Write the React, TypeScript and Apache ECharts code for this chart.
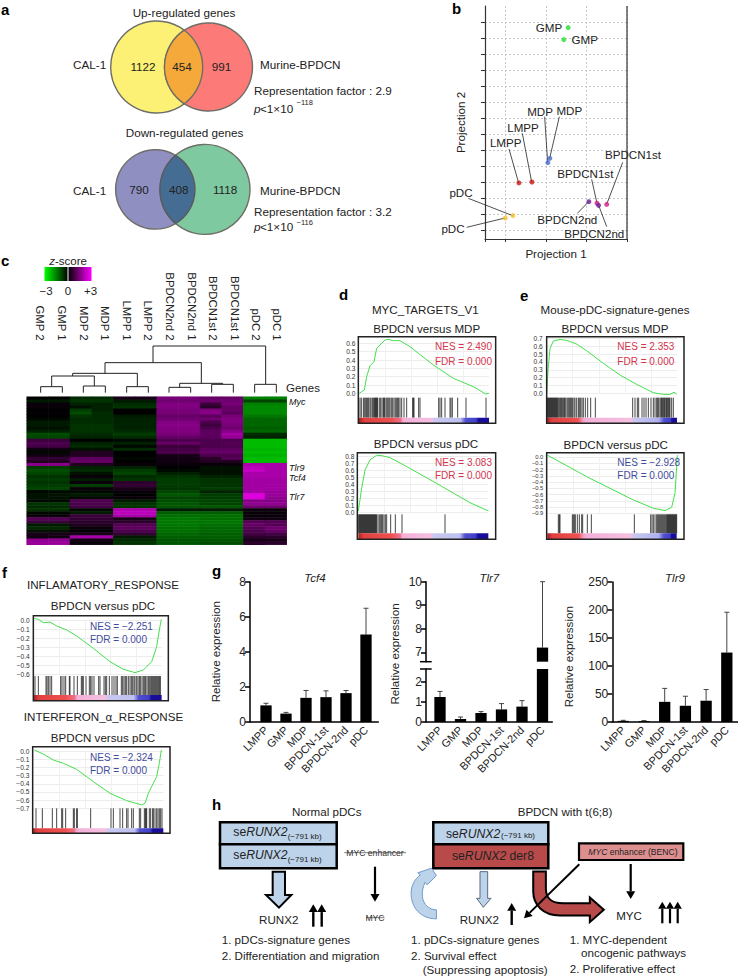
import React, { useEffect, useRef } from "react";
import * as echarts from "echarts";

const FONT = "Liberation Sans";

/* ---------- data ---------- */
const projNames = ["GMP", "GMP", "MDP", "MDP", "LMPP", "LMPP", "pDC", "pDC", "BPDCN1st", "BPDCN1st", "BPDCN2nd", "BPDCN2nd"];
const projX = [1.549, 1.442, 1.098, 1.049, 0.656, 0.336, 0.189, 0, 2.5, 2.26, 2.06, 2.3];
const projY = [12.65, 11.9, 4.48, 4.21, 3.0, 2.94, 0.9, 0.75, 1.6, 1.67, 1.77, 1.54];
const projColors = ["#22dd33", "#22dd33", "#4a6ccc", "#4a6ccc", "#cc1414", "#cc1414", "#f5c030", "#f5c030", "#d81b85", "#d81b85", "#6a1b9a", "#6a1b9a"];

const heatCols = ["GMP 2", "GMP 1", "MDP 2", "MDP 1", "LMPP 1", "LMPP 2", "BPDCN2nd 2", "BPDCN2nd 1", "BPDCN1st 2", "BPDCN1st 1", "pDC 2", "pDC 1"];
const heatRows = [
  [0, 0, -.5, -.5, .3, .3, 1.4, 1.4, 1.2, 1.2, -1.5, -1.5],
  [-.3, -.3, -.6, -.6, -.3, -.3, 1.3, 1.3, 1.3, 1.3, -.8, -.8],
  [.1, .1, -.4, -.4, -.5, -.5, 1.5, 1.5, .7, 1.4, -1.5, -1.5],
  [.1, .1, -.2, -.4, -.6, -.6, 1.5, 1.5, .5, 1.2, -1.6, -1.6],
  [0, 0, -.7, -.4, 0, 0, 1.4, 1.4, 1.5, 1.2, -1.6, -1.6],
  [.05, .05, -.9, -.5, 0, 0, 1.4, 1.4, 1.6, 1.1, -1.6, -1.6],
  [0, 0, -.6, -.5, -.3, -.3, 1.2, 1.2, 1.1, 1.4, -1.4, -1.4],
  [-.1, -.1, -.5, -.5, -.4, -.4, 1.3, 1.3, 1.3, 1.5, -1.2, -1.2],
  [-.3, -.3, -.5, -.5, -.4, -.4, 1.5, 1.5, .9, 1.5, -1.2, -1.2],
  [-.3, -.3, -.6, -.6, -.4, -.4, 1.6, 1.6, .7, 1.4, -1.2, -1.2],
  [-.2, -.2, -.6, -.6, -.4, -.4, 1.5, 1.5, .9, 1.3, -1.1, -1.1],
  [-.4, -.4, -.6, -.6, -.5, -.5, 1.5, 1.5, 1.1, 1.6, -1.2, -1.2],
  [-.9, -.9, -.5, -.5, -.7, -.7, 1.4, 1.4, 1.1, 1.9, -.5, -.5],
  [-.8, -.8, -.4, -.4, -.5, -.5, 1.2, 1.2, 1.1, 1.7, -.4, -.4],
  [.7, .7, 0, 0, -.1, -.1, .9, .9, .9, .9, -2.2, -2.2],
  [.9, .9, -.4, -.4, -.4, -.4, 1.2, 1.2, .9, 1, -2.2, -2.2],
  [.8, .8, -.5, -.5, -.1, -.1, .7, .7, .9, .9, -2.2, -2.2],
  [.2, .2, -.2, -.2, -.5, -.5, .8, .8, 1.1, 1.1, -2.1, -2.1],
  [-.1, -.1, .4, .4, 0, 0, .9, .9, 1.2, 1.2, -2.2, -2.2],
  [.2, .2, .4, .4, 0, 0, .3, .3, .9, .9, -2.1, -2.1],
  [.6, .6, 1.1, 1.1, -.1, -.1, .2, .2, .5, 1, -2.2, -2.2],
  [.4, .4, 1.2, 1.2, 0, 0, .2, .2, .4, .4, -2.2, -2.2],
  [1.6, 1.6, .4, .4, .1, .1, .1, .1, .1, .1, 2, 2],
  [-.7, -.7, -.4, -.4, -.4, -.4, 0, 0, -.2, -.2, 2.2, 2],
  [-.9, -.9, -.5, -.5, -.7, -.7, -.1, -.1, -.2, -.2, 2.3, 2],
  [-.8, -.8, -.2, -.2, -.8, -.8, -.4, -.4, -.2, -.2, 2, 2],
  [-.6, -.6, .1, .1, -.5, -.5, -.6, -.6, -.4, -.4, 2, 2],
  [-.7, -.7, -.3, -.3, -.6, -.6, -.7, -.7, -.6, -.6, 1.9, 1.9],
  [-.6, -.6, .1, .1, .5, .5, -.7, -.7, -.6, -.6, 1.9, 1.9],
  [-.7, -.7, -.7, -.7, .6, .6, -.7, -.7, -.6, -.6, 1.9, 1.9],
  [-.8, -.8, .1, .1, .3, .3, -.6, -.6, -.7, -.7, 1.9, 1.9],
  [-.1, -.1, -.1, -.1, .1, .1, -.8, -.8, -.4, -.4, 1.9, 1.8],
  [-.2, -.2, -.3, -.3, 0, 0, -1, -1, -.7, -.7, 2.6, 1.8],
  [-.2, -.2, -.1, -.1, .1, .1, -.8, -.8, -.7, -.7, 2.6, 1.7],
  [-.1, -.1, .9, .9, -.3, -.3, -.9, -.9, -.8, -.8, 1.6, 1.6],
  [-.6, -.6, .9, .9, -.6, -.6, -1, -1, -.8, -.8, 1.7, 1.7],
  [-.5, -.5, .8, .8, -.6, -.6, -1, -1, -1, -1, 1.3, 1.3],
  [-.6, -.6, -.1, -.1, 2.1, 2.1, -.3, -.3, -.3, -.3, .1, .1],
  [-.1, -.1, -.3, -.3, 2.2, 2.2, -1.1, -1.1, -1.1, -1.1, .1, .1],
  [.1, .1, .7, .7, 2, 2, -1.3, -1.3, -1.3, -1.3, .1, .1],
  [1, 1, .6, .6, .3, .3, -1.4, -1.4, -1.3, -1.3, .2, .2],
  [.7, .7, .5, .5, .5, .5, -1.4, -1.4, -1.4, -1.4, 1, 1],
  [-.3, -.3, .4, .4, 1, 1, -1.4, -1.4, -1.3, -1.3, 1.2, 1],
  [-.5, -.5, .1, .1, 1.1, 1.1, -1.3, -1.3, -1.2, -1.2, 1, 1.3],
  [-.2, -.2, 0, 0, .9, .9, -1.3, -1.3, -1.2, -1.2, .9, 1.2],
  [.3, .3, .3, .3, .6, .6, -1.2, -1.2, -1.1, -1.1, .8, .8],
  [.2, .2, 2, 2, -.3, -.3, -1.1, -1.1, -1.1, -1.1, .5, .5],
  [1.7, 1.7, .2, .2, -.5, -.5, -1, -1, -1, -1, .3, .3],
  [1.8, 1.8, .1, .1, -.6, -.6, -1, -1, -.9, -.9, .5, .5],
];

const d1Curve = [[118, 0], [125, .02], [133, .04], [140, .2], [150, .33], [162, .38], [170, .54], [180, .58], [195, .64], [205, .648], [220, .632], [240, .632], [270, .56], [340, .34], [400, .18], [460, .08], [497, -.008], [507, 0]];
const d1Hits = [120, 124, 130, 133, 137, 140, 143, 146, 150, 153, 157, 160, 163, 165, 167, 169, 171, 173, 178, 182, 186, 190, 192, 194, 198, 201, 204, 207, 210, 214, 218, 222, 226, 230, 233, 236, 240, 245, 252, 260, 278, 280, 282, 296, 300, 356, 360, 365, 375, 390, 393, 397, 413, 438, 498];
const d2Curve = [[115, .02], [125, .34], [135, .6], [150, .744], [170, .81], [185, .805], [210, .777], [260, .65], [350, .41], [450, .137], [505, .02]];
const d2Hits = [116, 118, 120, 122, 124, 126, 128, 130, 132, 134, 136, 138, 140, 142, 144, 146, 148, 150, 152, 154, 156, 158, 160, 162, 164, 166, 168, 170, 174, 178, 182, 185, 188, 192, 196, 200, 212, 226, 246, 375];
const e1Curve = [[80, 0], [85, .34], [90, .57], [100, .665], [120, .686], [140, .674], [170, .627], [200, .542], [250, .381], [300, .233], [350, .114], [400, .008], [430, -.013], [450, -.013], [462, .013], [470, -.008]];
const e1Hits = [81, 83, 85, 87, 89, 91, 93, 95, 97, 99, 101, 103, 105, 107, 109, 111, 113, 116, 119, 122, 124, 127, 130, 133, 135, 138, 142, 146, 149, 152, 155, 158, 162, 165, 170, 175, 178, 182, 186, 190, 196, 203, 212, 226, 338, 345, 352, 356, 366, 372, 378, 385, 393, 400, 405, 410, 413, 416, 420, 423, 425, 428, 430, 433, 435, 438, 440, 443, 445, 448, 450, 455, 460];
const e2Curve = [[82, .03], [200, -.314], [340, -.686], [400, -.819], [435, -.856], [455, -.803], [465, -.58], [470, -.154], [472, .03]];
const e2Hits = [115, 118, 120, 157, 160, 163, 166, 172, 178, 185, 188, 202, 214, 343, 392, 396, 400, 405, 410, 413, 416, 419, 422, 425, 428, 431, 434, 437, 440, 442, 444, 446, 448, 450, 452, 454, 456, 458, 460, 462, 464, 466, 468, 470];
const f1Curve = [[103, .022], [115, .011], [130, -.026], [150, -.019], [170, -.063], [200, -.107], [230, -.174], [280, -.311], [330, -.459], [370, -.544], [405, -.581], [430, -.552], [455, -.459], [470, -.293], [478, -.107], [484, .011]];
const f1Hits = [105, 115, 138, 141, 145, 150, 155, 182, 186, 192, 197, 208, 210, 222, 232, 244, 247, 250, 258, 268, 272, 276, 282, 296, 300, 312, 316, 320, 328, 336, 342, 348, 352, 364, 368, 372, 376, 380, 385, 390, 394, 398, 402, 405, 410, 414, 418, 421, 426, 430, 434, 437, 441, 445, 448, 452, 455, 458, 461, 464, 467, 470, 473, 476, 479, 481];
const f2Curve = [[103, .012], [130, -.037], [160, -.11], [190, -.15], [230, -.224], [280, -.374], [330, -.516], [380, -.606], [425, -.659], [435, -.638], [445, -.516], [460, -.394], [470, -.313], [478, -.15], [484, .012]];
const f2Hits = [108, 127, 157, 170, 185, 188, 197, 220, 223, 230, 232, 272, 333, 340, 360, 368, 380, 384, 395, 400, 418, 422, 433, 436, 438, 440, 448, 452, 458, 460, 465, 470, 474, 478, 482, 486];

const cellTypes = ["LMPP", "GMP", "MDP", "BPDCN-1st", "BPDCN-2nd", "pDC"];
const tcf4Values = [.95, .48, 1.38, 1.42, 1.65, 5.0];
const tcf4Upper = [1.07, .55, 1.8, 1.78, 1.8, 6.5];
const tlr7Values = [1.25, .15, .45, .63, .77, 7.2];
const tlr7Upper = [1.53, .25, .52, .92, 1.07, 10];
const tlr9Values = [2, 1.5, 36, 29, 38, 124];
const tlr9Upper = [3, 2.5, 60, 46, 58, 196];

/* ---------- shapes ---------- */
echarts.graphic.registerShape("lensUp", echarts.graphic.extendPath("M184.3 30.2 A46 46 0 0 1 184.3 103.8 A44 44 0 0 1 184.3 30.2 Z", {}));
echarts.graphic.registerShape("lensDown", echarts.graphic.extendPath("M175.6 155.3 A39.7 39.7 0 0 1 175.6 223.5 A45 45 0 0 1 175.6 155.3 Z", {}));
echarts.graphic.registerShape("curlBlue", echarts.graphic.extendPath("M710 522 C662 522 634 488 634 445 C634 420 646 402 662 390 L654 384 L695 370 L710 392 L682 420 L676 412 C670 425 666 440 668 455 C670 480 690 495 710 495 Z", {}));
echarts.graphic.registerShape("bendRed", echarts.graphic.extendPath("M340 380 L378 380 L378 430 C378 462 395 475 430 475 L510 475 L510 458 L552 495 L510 532 L510 512 L420 512 C370 512 340 480 340 440 Z", {}));

const stripStopsA = [[0, "#a82020"], [.04, "#e04040"], [.25, "#ee5050"], [.32, "#f07088"], [.34, "#f4b0d8"], [.56, "#f4c0e0"], [.58, "#c8c8f0"], [.78, "#c0c0f0"], [.82, "#5050d0"], [.9, "#4040c8"], [.92, "#180c98"], [1, "#180c98"]];
const stripStopsE = [[0, "#a82020"], [.04, "#e04040"], [.24, "#ee5050"], [.28, "#f4a0c8"], [.3, "#f4b0d8"], [.65, "#f4c0e0"], [.67, "#c8c8f0"], [.86, "#b0b0f0"], [.9, "#5050d0"], [.95, "#4040c8"], [.96, "#180c98"], [1, "#180c98"]];

function T(x: number, y: number, text: string, o: any = {}) {
  const { rotation, ...st } = o;
  const el: any = {
    type: "text", x, y, z: 20, silent: true,
    style: { text, fontFamily: FONT, fontSize: 12, fill: "#222", align: "left", verticalAlign: "middle", ...st },
  };
  if (rotation !== undefined) el.rotation = rotation;
  return el;
}
function L(x1: number, y1: number, x2: number, y2: number, stroke = "#111", lineWidth = 1, z = 15) {
  return { type: "line", z, silent: true, shape: { x1, y1, x2, y2 }, style: { stroke, lineWidth } };
}
function Arrow(x1: number, y1: number, x2: number, y2: number, w = 2, head = 6) {
  const a = Math.atan2(y2 - y1, x2 - x1);
  const bx = x2 - Math.cos(a) * head * 1.3, by = y2 - Math.sin(a) * head * 1.3;
  const nx = -Math.sin(a) * head * 0.75, ny = Math.cos(a) * head * 0.75;
  return [
    L(x1, y1, bx, by, "#000", w),
    { type: "polygon", z: 15, silent: true, shape: { points: [[x2, y2], [bx + nx, by + ny], [bx - nx, by - ny]] }, style: { fill: "#000" } },
  ];
}

function buildOption() {
  const grid: any[] = [], xAxis: any[] = [], yAxis: any[] = [], series: any[] = [], g: any[] = [];
  const addGrid = (l: number, t: number, r: number, b: number, x: any, y: any) => {
    grid.push({ left: l, top: t, width: r - l, height: b - t, containLabel: false });
    const i = grid.length - 1;
    xAxis.push({ gridIndex: i, type: "value", ...x });
    yAxis.push({ gridIndex: i, type: "value", ...y });
    return i;
  };
  const lineOff = (extra: any = {}) => ({ onZero: false, ...extra });

  /* panel letters */
  ([["a", 1, 9], ["b", 452, 8], ["c", 1, 260], ["d", 339, 294], ["e", 520, 295], ["f", 2, 572], ["g", 212, 570], ["h", 212, 804]] as any[]).forEach(([s, x, y]) =>
    g.push(T(x, y, s, { fontWeight: "bold", fontSize: 15, fill: "#000" })));

  /* a: venn */
  const venn = (cx: number, cy: number, r: number, fill: string) => ({ type: "circle", z: 5, silent: true, shape: { cx, cy, r }, style: { fill, stroke: "#6e6e66", lineWidth: 1.4 } });
  g.push(venn(156.7, 67, 46, "#fcf174"), venn(208.5, 67, 44, "#fc7a78"));
  g.push({ type: "lensUp", x: 0, y: 0, z: 6, silent: true, style: { fill: "#f6a93b", stroke: "#6e6e66", lineWidth: 1.4 } });
  g.push(venn(155.3, 189.4, 39.7, "#8f8fc2"), venn(205, 189.4, 45, "#7fc9a0"));
  g.push({ type: "lensDown", x: 0, y: 0, z: 6, silent: true, style: { fill: "#456c92", stroke: "#5a5a5a", lineWidth: 1.4 } });
  const vt = { fontSize: 11.7 };
  g.push(T(184, 12, "Up-regulated genes", { ...vt, align: "center" }));
  g.push(T(73, 64, "CAL-1", vt), T(143, 66, "1122", { ...vt, align: "center" }), T(182, 66, "454", { ...vt, align: "center" }), T(221.5, 66, "991", { ...vt, align: "center" }));
  g.push(T(260, 64, "Murine-BPDCN", vt), T(254, 90.5, "Representation factor : 2.9", vt));
  g.push(T(254, 108.7, "p", { ...vt, fontStyle: "italic" }), T(260, 108.7, "<1×10", vt), T(296.5, 102.3, "−118", { fontSize: 7.5 }));
  g.push(T(184.5, 132, "Down-regulated genes", { ...vt, align: "center" }));
  g.push(T(73, 190, "CAL-1", vt), T(139, 189, "790", { ...vt, align: "center" }), T(178.7, 189.5, "408", { ...vt, align: "center" }), T(225, 189.5, "1118", { ...vt, align: "center" }));
  g.push(T(260, 190, "Murine-BPDCN", vt), T(254, 211, "Representation factor : 3.2", vt));
  g.push(T(254, 226.7, "p", { ...vt, fontStyle: "italic" }), T(260, 226.7, "<1×10", vt), T(296.5, 222.5, "−116", { fontSize: 7.5 }));

  /* b: projection scatter */
  const dash = { show: true, lineStyle: { type: [2, 2], color: "#c8c8c8", width: 1 } };
  const bi = addGrid(485, 6, 627, 239,
    { min: -0.5, max: 3, axisLine: lineOff({ lineStyle: { color: "#333", width: 1.2 } }), axisTick: { show: true, length: 3, customValues: [-0.5, 0, 1, 2, 3], lineStyle: { color: "#333" } }, axisLabel: { show: false }, splitLine: dash },
    { min: -0.5625, max: 14, axisLine: lineOff({ lineStyle: { color: "#333", width: 1.2 } }), axisTick: { show: true, length: 4, customValues: [0, 1, 2, 3, 4, 5, 6, 7, 8, 9, 10, 11, 12, 13], lineStyle: { color: "#333" } }, axisLabel: { show: false }, splitLine: dash });
  series.push({
    type: "scatter", xAxisIndex: bi, yAxisIndex: bi, symbolSize: 5, z: 5,
    data: projX.map((x, i) => ({ name: projNames[i], value: [x, projY[i]], itemStyle: { color: projColors[i] } })),
  });
  g.push(L(627, 6, 627, 239, "#333", 1.2));
  const bx = (z: number) => 440 + z / 3, by = (z: number) => z / 3;
  ([["GMP", 327, 82], ["GMP", 434, 119], ["MDP", 300, 334], ["MDP", 388, 330], ["LMPP", 249, 382], ["LMPP", 197, 426], ["BPDCN1st", 579, 464], ["BPDCN1st", 436, 520], ["pDC", 63, 578], ["pDC", 39, 686], ["BPDCN2nd", 382, 657], ["BPDCN2nd", 463, 700]] as any[]).forEach(([s, x, y]) =>
    g.push(T(bx(x), by(y), s, { align: "center", fontSize: 11.6 })));
  ([[314, 350, 323, 488], [358, 350, 329, 475], [247, 400, 275, 546], [207, 447, 236, 549], [548, 487, 500, 613], [455, 538, 471, 610], [500, 680, 476, 616], [412, 640, 446, 605], [85, 595, 218, 647], [80, 682, 195, 654]] as number[][]).forEach(([a, b, c, d]) =>
    g.push(L(bx(a), by(b), bx(c), by(d), "#222", 0.8, 4)));
  g.push(T(bx(348), 253.5, "Projection 1", { align: "center", fontSize: 11.6 }));
  g.push(T(460.5, 122.5, "Projection 2", { align: "center", fontSize: 11.6, rotation: Math.PI / 2 }));

  /* c: heatmap */
  const hi = grid.length;
  grid.push({ left: 26.7, top: 396.7, width: 260, height: 148 });
  xAxis.push({ gridIndex: hi, type: "category", data: heatCols, show: false });
  yAxis.push({ gridIndex: hi, type: "category", inverse: true, data: heatRows.map((_, i) => String(i)), show: false });
  const heatData: number[][] = [];
  heatRows.forEach((row, r) => row.forEach((v, c) => heatData.push([c, r, v])));
  series.push({ type: "heatmap", xAxisIndex: hi, yAxisIndex: hi, data: heatData, progressive: 0, itemStyle: { borderWidth: 0 } });
  const dz = (z: number) => z / 3, dy = (z: number) => 250 + z / 3;
  g.push({ type: "rect", z: 8, silent: true, shape: { x: 44.5, y: 267, width: 47, height: 14 }, style: { fill: { type: "linear", x: 0, y: 0, x2: 1, y2: 0, colorStops: [{ offset: 0, color: "#00ff00" }, { offset: .5, color: "#000" }, { offset: 1, color: "#ff00ff" }] } } });
  g.push(L(68, 267, 68, 281, "#fff", 1));
  g.push(T(68, 261, "{i|z}-score", { align: "center", fontSize: 11.5, rich: { i: { fontStyle: "italic", fontSize: 11.5, fontFamily: FONT, fill: "#222" } } }));
  g.push(T(46, 291, "−3", { align: "center", fontSize: 11.5 }), T(68, 291, "0", { align: "center", fontSize: 11.5 }), T(90.5, 291, "+3", { align: "center", fontSize: 11.5 }));
  const colLabelX = [121, 187, 253, 316, 381, 445, 510, 575, 638, 705, 768, 830];
  heatCols.forEach((s, i) => g.push(T(dz(colLabelX[i]), 340.7, s, { align: "right", fontSize: 11.4, rotation: -Math.PI / 2 })));
  ([
    [[459, 338], [459, 288], [797, 288], [797, 403]],
    [[315, 370], [315, 338], [604, 338], [604, 400]],
    [[218, 378], [218, 370], [412, 370], [412, 410]],
    [[155, 410], [155, 378], [283, 378], [283, 408]],
    [[122, 428], [122, 410], [187, 410], [187, 428]],
    [[250, 428], [250, 408], [316, 408], [316, 428]],
    [[380, 428], [380, 410], [445, 410], [445, 428]],
    [[539, 412], [539, 400], [668, 400], [668, 403]],
    [[507, 428], [507, 412], [572, 412], [572, 428]],
    [[635, 428], [635, 403], [700, 403], [700, 428]],
    [[764, 428], [764, 403], [829, 403], [829, 428]],
  ] as number[][][]).forEach((p) => g.push({ type: "polyline", z: 10, silent: true, shape: { points: p.map(([x, y]) => [dz(x), dy(y)]) }, style: { stroke: "#222", lineWidth: 1, fill: "none" } }));
  g.push(T(286, 388, "Genes", { fontSize: 11.5 }));
  ([["Myc", 402], ["Tlr9", 467.5], ["Tcf4", 477.5], ["Tlr7", 497]] as any[]).forEach(([s, y]) => g.push(T(289, y, s, { fontSize: 9, fontStyle: "italic", fill: "#111" })));

  /* GSEA panels */
  const gsea = (p: any) => {
    const X = (z: number) => p.ox + z / 3, Y = (z: number) => p.oy + z / 3;
    const [bl, bt, br, bb] = p.box;
    g.push({ type: "rect", z: 9, silent: true, shape: { x: X(bl), y: Y(bt), width: (br - bl) / 3, height: (bb - bt) / 3 }, style: { fill: "none", stroke: "#222", lineWidth: 1.5 } });
    const [r0, r1] = p.rank;
    const span = r1 - r0;
    const i = addGrid(X(r0), Y(p.ypx[1]), X(r1), Y(p.ypx[0]),
      { min: r0, max: r1, axisLine: lineOff({ show: false }), axisTick: { show: false, customValues: [r0 + span * .2, r0 + span * .4, r0 + span * .6, r0 + span * .8] }, axisLabel: { show: false }, splitLine: { show: true, lineStyle: { color: "#f0f0f0", width: 1 } } },
      { min: p.yr[0], max: p.yr[1], interval: .1, axisLine: lineOff({ show: false }), axisTick: { show: false }, splitLine: { show: true, lineStyle: { color: "#ececec", width: 1 } },
        axisLabel: { fontSize: p.labelSize ?? 6.6, fontFamily: FONT, color: "#333", margin: 4, hideOverlap: false, showMinLabel: true, showMaxLabel: true, formatter: (v: number) => v.toFixed(1).replace("-", "−") } });
    series.push({ type: "line", xAxisIndex: i, yAxisIndex: i, data: p.curve, showSymbol: false, symbol: "none", clip: false, lineStyle: { color: "#44e04c", width: 1 }, z: 6 });
    const j = addGrid(X(r0), Y(p.bar[0]), X(r1), Y(p.bar[1]), { min: r0, max: r1, show: false, axisLine: lineOff() }, { min: 0, max: 1, show: false, axisLine: lineOff() });
    series.push({
      type: "custom", xAxisIndex: j, yAxisIndex: j, data: p.hits.map((h: number) => [h, 1]), encode: { x: 0, y: 1 }, z: 6,
      renderItem: (_: any, api: any) => {
        const a = api.coord([api.value(0), 0]), b = api.coord([api.value(0), 1]);
        return { type: "line", shape: { x1: a[0], y1: a[1], x2: b[0], y2: b[1] }, style: { stroke: "#000", lineWidth: 1, opacity: .72 } };
      },
    });
    g.push({ type: "rect", z: 8, silent: true, shape: { x: X(p.stripX[0]), y: Y(p.strip[0]), width: (p.stripX[1] - p.stripX[0]) / 3, height: (p.strip[1] - p.strip[0]) / 3 },
      style: { fill: { type: "linear", x: 0, y: 0, x2: 1, y2: 0, colorStops: (p.stops || stripStopsA).map(([offset, color]: any) => ({ offset, color })) } } });
    const col = p.neg ? "#3f4c9e" : "#d4354d";
    g.push(T(X(p.nes[0]), Y(p.nes[1]), p.nesText, { fill: col, fontSize: 10 }), T(X(p.nes[0]), Y(p.nes[2]), "FDR = 0.000", { fill: col, fontSize: 10 }));
  };
  gsea({ ox: 320, oy: 280, box: [115, 170, 527, 430], rank: [118, 507], yr: [0, .6], ypx: [340, 190], bar: [353, 413], strip: [413, 430], stripX: [117, 507], curve: d1Curve, hits: d1Hits, nes: [345, 198, 245], nesText: "NES = 2.490" });
  gsea({ ox: 320, oy: 280, box: [112, 518, 527, 778], rank: [115, 505], yr: [0, .8], ypx: [697, 528], bar: [703, 760], strip: [760, 778], stripX: [115, 505], curve: d2Curve, hits: d2Hits, nes: [345, 547, 587], nesText: "NES = 3.083" });
  gsea({ ox: 520, oy: 280, box: [80, 170, 492, 430], rank: [80, 471], yr: [0, .7], ypx: [340, 175], bar: [353, 413], strip: [413, 430], stripX: [80, 471], curve: e1Curve, hits: e1Hits, nes: [292, 198, 245], nesText: "NES = 2.353", stops: stripStopsE });
  gsea({ ox: 520, oy: 280, box: [80, 518, 492, 778], rank: [82, 472], yr: [-.9, 0], ypx: [700, 531], bar: [703, 760], strip: [760, 778], stripX: [82, 470], curve: e2Curve, hits: e2Hits, nes: [292, 547, 587], nesText: "NES = −2.928", neg: true, stops: stripStopsE, labelSize: 5.8 });
  gsea({ ox: 0, oy: 550, box: [100, 197, 505, 452], rank: [101, 485], yr: [-.6, 0], ypx: [373, 211], bar: [378, 435], strip: [435, 450], stripX: [101, 485], curve: f1Curve, hits: f1Hits, nes: [270, 228, 268], nesText: "NES = −2.251", neg: true });
  gsea({ ox: 0, oy: 550, box: [98, 590, 510, 850], rank: [100, 490], yr: [-.7, 0], ypx: [775, 603], bar: [775, 835], strip: [835, 850], stripX: [97, 490], curve: f2Curve, hits: f2Hits, nes: [270, 621, 660], nesText: "NES = −2.324", neg: true });
  const hd = { align: "center", fontSize: 11.6 };
  g.push(T(425.3, 309, "MYC_TARGETS_V1", hd), T(426.7, 328, "BPDCN versus MDP", hd), T(426, 443.5, "BPDCN versus pDC", hd));
  g.push(T(615, 309, "Mouse-pDC-signature-genes", hd), T(615, 328, "BPDCN versus MDP", hd), T(615.7, 444.5, "BPDCN versus pDC", hd));
  g.push(T(103, 584, "INFLAMATORY_RESPONSE", hd), T(103, 605, "BPDCN versus pDC", hd), T(103.5, 716, "INTERFERON_α_RESPONSE", hd), T(103, 737.3, "BPDCN versus pDC", hd));

  /* g: bars */
  const axisStyle = { lineStyle: { color: "#000", width: 1.5 } };
  const xLabels = { show: true, customValues: [0, 1, 2, 3, 4, 5], rotate: 45, fontSize: 11, fontFamily: FONT, color: "#222", margin: 6, formatter: (v: number) => cellTypes[v] };
  const barsAndErr = (i: number, bars: number[][], errs: number[][]) => {
    series.push({ type: "bar", xAxisIndex: i, yAxisIndex: i, barWidth: 11.3, data: bars, itemStyle: { color: "#000" }, z: 4 });
    series.push({
      type: "custom", xAxisIndex: i, yAxisIndex: i, data: errs, encode: { x: 0, y: 1 }, z: 3,
      renderItem: (_: any, api: any) => {
        const top = api.coord([api.value(0), api.value(1)]), base = api.coord([api.value(0), api.value(2)]);
        const st = { stroke: "#444", lineWidth: 1, fill: "none" };
        return { type: "group", children: [
          { type: "line", shape: { x1: top[0], y1: top[1], x2: base[0], y2: base[1] }, style: st },
          { type: "line", shape: { x1: top[0] - 2.5, y1: top[1], x2: top[0] + 2.5, y2: top[1] }, style: st },
        ] };
      },
    });
  };
  const yCommon = { axisLine: lineOff(axisStyle), axisTick: { show: true, length: 5, ...axisStyle }, splitLine: { show: false }, axisLabel: { fontSize: 12, fontFamily: FONT, color: "#222", margin: 4 } };
  const xCommon = { axisLine: lineOff(axisStyle), splitLine: { show: false } };

  const ti = addGrid(250, 582, 378.3, 722,
    { ...xCommon, min: -0.8, max: 5.615, axisTick: { show: false, customValues: [0, 1, 2, 3, 4, 5] }, axisLabel: xLabels },
    { ...yCommon, min: 0, max: 8, interval: 2 });
  barsAndErr(ti, tcf4Values.map((v, i) => [i, v]), tcf4Upper.map((v, i) => [i, v, tcf4Values[i]]));

  const LOW_MAX = 2.65, HIGH_MIN = 6.6;
  const lo = addGrid(426, 669, 552.3, 722,
    { ...xCommon, min: -0.683, max: 5.478, axisTick: { show: false, customValues: [0, 1, 2, 3, 4, 5] }, axisLabel: xLabels },
    { ...yCommon, min: 0, max: LOW_MAX, axisTick: { ...yCommon.axisTick, customValues: [0, 1, 2] }, axisLabel: { ...yCommon.axisLabel, customValues: [0, 1, 2] } });
  barsAndErr(lo, tlr7Values.map((v, i) => [i, v]), tlr7Upper.map((v, i) => [i, v, tlr7Values[i]]).filter((d) => d[1] <= LOW_MAX));
  const up = addGrid(426, 581.7, 552.3, 661.7,
    { min: -0.683, max: 5.478, show: false, axisLine: lineOff() },
    { ...yCommon, min: HIGH_MIN, max: 10, axisTick: { ...yCommon.axisTick, customValues: [7, 8, 9, 10] }, axisLabel: { ...yCommon.axisLabel, customValues: [7, 8, 9, 10] } });
  barsAndErr(up, tlr7Values.map((v, i) => [i, v]).filter((d) => d[1] >= HIGH_MIN), tlr7Upper.map((v, i) => [i, v, tlr7Values[i]]).filter((d) => d[1] >= HIGH_MIN));
  g.push(L(420, 661.7, 431.7, 661.7, "#000", 1.5), L(420, 669, 431.7, 669, "#000", 1.5));

  const ni = addGrid(612.3, 582, 738, 722,
    { ...xCommon, min: -0.53, max: 5.54, axisTick: { show: false, customValues: [0, 1, 2, 3, 4, 5] }, axisLabel: xLabels },
    { ...yCommon, min: 0, max: 250, interval: 50 });
  barsAndErr(ni, tlr9Values.map((v, i) => [i, v]), tlr9Upper.map((v, i) => [i, v, tlr9Values[i]]));

  g.push(T(315, 578.3, "Tcf4", { align: "center", fontStyle: "italic", fontSize: 11.5 }), T(489.3, 578.3, "Tlr7", { align: "center", fontStyle: "italic", fontSize: 11.5 }), T(675, 578.3, "Tlr9", { align: "center", fontStyle: "italic", fontSize: 11.5 }));
  ([[215.7, 651.7], [394.3, 654], [568.3, 656.7]] as number[][]).forEach(([x, y]) => g.push(T(x, y, "Relative expression", { align: "center", fontSize: 11.6, rotation: Math.PI / 2 })));

  /* h: schematic */
  const tt = { fontSize: 11.6 };
  const blue = "#bdd3ea", red = "#b84a4a";
  const box = (x: number, y: number, w: number, h: number, fill: string, lw = 2.5) => ({ type: "rect", z: 8, silent: true, shape: { x, y, width: w, height: h }, style: { fill, stroke: "#000", lineWidth: lw } });
  const se = (x: number, y: number, suffix = "", size = 12.2) => T(x, y, "se{i|RUNX2}" + suffix, { fontSize: size, rich: { i: { fontStyle: "italic", fontSize: size, fontFamily: FONT, fill: "#222" } } });
  g.push(T(326.7, 811.7, "Normal pDCs", { ...tt, align: "center" }), T(565, 811.7, "BPDCN with t(6;8)", { ...tt, align: "center" }));
  g.push(box(220, 822.3, 116.7, 22, blue), box(220, 844.3, 116.7, 24, blue));
  g.push(se(233.3, 832.3), T(287.7, 836.7, "(−791 kb)", { fontSize: 8 }), se(233.3, 855), T(287.7, 859, "(−791 kb)", { fontSize: 8 }));
  g.push(box(433.3, 822.3, 115, 22, blue), box(433.3, 844.3, 115, 24, red));
  g.push(se(446, 834.3), T(501, 835.7, "(−791 kb)", { fontSize: 8 }), se(452, 856, " der8"));
  g.push(box(579, 843.3, 104.3, 16.7, "#dd8f8f", 2.2));
  g.push(T(588.3, 851.7, "{i|MYC} enhancer (BENC)", { fontSize: 8.6, rich: { i: { fontStyle: "italic", fontSize: 8.6, fontFamily: FONT, fill: "#222" } } }));
  g.push(T(375, 852.7, "MYC enhancer", { align: "center", fontSize: 8.6, fill: "#333" }), L(344.3, 852.7, 406, 852.7, "#555", 0.8));
  g.push(T(375, 917.7, "MYC", { align: "center", fontSize: 8.6, fill: "#333" }), L(366, 917.7, 384.5, 917.7, "#555", 0.8));
  const zx = (z: number) => 200 + z / 3, zy = (z: number) => 745 + z / 3;
  g.push({ type: "polygon", z: 9, silent: true, shape: { points: ([[218, 380], [255, 380], [255, 450], [274, 450], [237, 488], [198, 450], [218, 450]] as number[][]).map(([x, y]) => [zx(x), zy(y)]) }, style: { fill: blue, stroke: "#000", lineWidth: 2 } });
  const zx2 = (z: number) => 420 + z / 3;
  g.push({ type: "polygon", z: 9, silent: true, shape: { points: ([[180, 380], [203, 380], [203, 460], [213, 460], [190, 487], [170, 460], [180, 460]] as number[][]).map(([x, y]) => [zx2(x), zy(y)]) }, style: { fill: blue, stroke: "#5a6a80", lineWidth: 1 } });
  g.push({ type: "curlBlue", x: 200, y: 745, scaleX: 1 / 3, scaleY: 1 / 3, z: 9, silent: true, style: { fill: blue, stroke: "#6d9ccc", lineWidth: 3 } });
  g.push({ type: "bendRed", x: 420, y: 745, scaleX: 1 / 3, scaleY: 1 / 3, z: 11, silent: true, style: { fill: red, stroke: "#000", lineWidth: 6 } });
  g.push(...Arrow(375, 866.7, 375, 901.7, 2.2, 6));
  g.push(...Arrow(313.3, 926.7, 313.3, 904.3, 2.4, 6), ...Arrow(321.7, 926.7, 321.7, 904.3, 2.4, 6));
  g.push(...Arrow(579.3, 864.3, 524, 918.3, 2, 6));
  g.push(...Arrow(630.7, 864, 630.7, 899, 2.2, 6));
  g.push(...Arrow(511.7, 925, 511.7, 903, 2.4, 6));
  g.push(...Arrow(662.3, 923.3, 662.3, 901.7, 2.2, 5.5), ...Arrow(670, 923.3, 670, 901.7, 2.2, 5.5), ...Arrow(677.7, 923.3, 677.7, 901.7, 2.2, 5.5));
  g.push(T(278.7, 919, "RUNX2", { ...tt, align: "center" }), T(479.3, 919, "RUNX2", { ...tt, align: "center" }), T(629, 915.7, "MYC", { ...tt, align: "center" }));
  g.push(T(221.7, 939, "1. pDCs-signature genes", tt), T(221.7, 955.7, "2. Differentiation and migration", tt));
  g.push(T(411, 939, "1. pDCs-signature genes", tt), T(411, 955.7, "2. Survival effect", tt), T(422.7, 969.3, "(Suppressing apoptosis)", tt));
  g.push(T(569.7, 939, "1. MYC-dependent", tt), T(581, 952.7, "oncogenic pathways", tt), T(569.7, 968.3, "2. Proliferative effect", tt));

  return {
    animation: false,
    backgroundColor: "#fff",
    textStyle: { fontFamily: FONT },
    tooltip: { show: false },
    grid, xAxis, yAxis, series,
    visualMap: { show: false, type: "continuous", min: -3, max: 3, seriesIndex: 1, inRange: { color: ["#00ff00", "#000000", "#ff00ff"] } },
    graphic: { elements: g },
  };
}

export default function App() {
  const ref = useRef<HTMLDivElement>(null);
  useEffect(() => {
    document.body.style.margin = "0";
    const chart = echarts.init(ref.current!, undefined, { renderer: "svg" });
    chart.setOption(buildOption() as any);
    return () => chart.dispose();
  }, []);
  return <div ref={ref} style={{ width: 738, height: 976 }} />;
}
